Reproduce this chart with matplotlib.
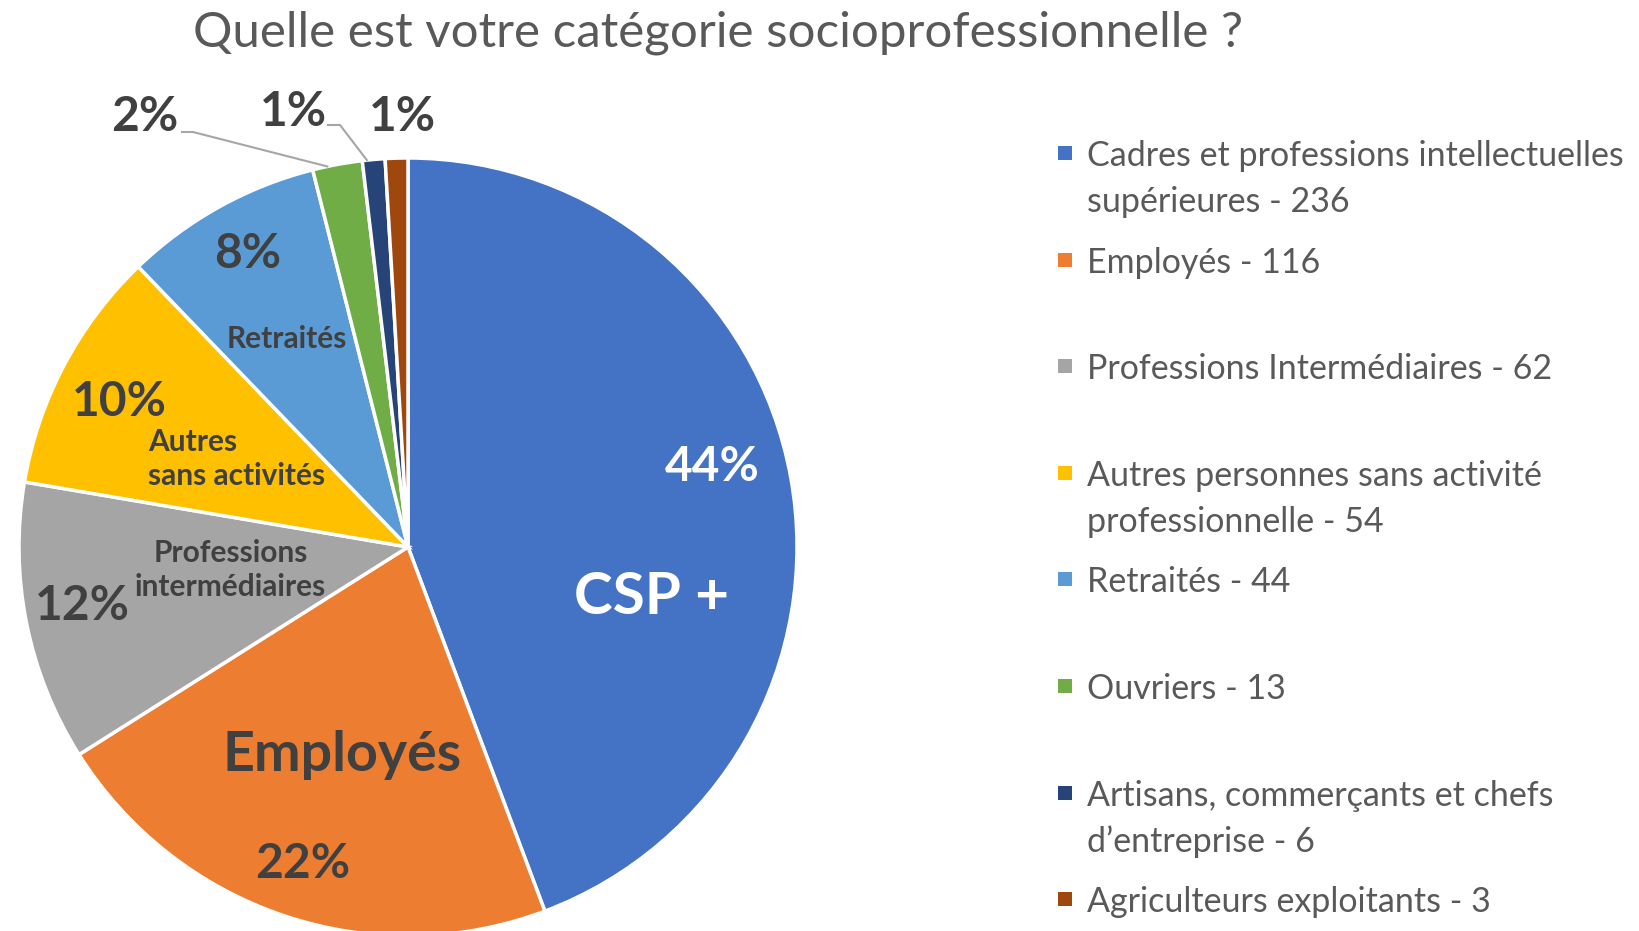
import matplotlib
matplotlib.use("Agg")
import matplotlib.pyplot as plt
import numpy as np

plt.rcParams['font.family'] = ['Lato', 'DejaVu Sans']

# data
categories = [
    "Cadres et professions intellectuelles\nsupérieures - 236",
    "Employés - 116",
    "Professions Intermédiaires - 62",
    "Autres personnes sans activité\nprofessionnelle - 54",
    "Retraités - 44",
    "Ouvriers - 13",
    "Artisans, commerçants et chefs\nd’entreprise - 6",
    "Agriculteurs exploitants - 3",
]
values = [236, 116, 62, 54, 44, 11, 5, 5]
pct_labels = ["44%", "22%", "12%", "10%", "8%", "2%", "1%", "1%"]
colors = ["#4472C4", "#ED7D31", "#A5A5A5", "#FFC000",
          "#5B9BD5", "#70AD47", "#264478", "#9E480E"]
title = "Quelle est votre catégorie socioprofessionnelle ?"

W, H = 1639, 931
fig = plt.figure(figsize=(W / 100, H / 100), dpi=100)
ax = fig.add_axes([0, 0, 1, 1])

cx, cy, R = 408, H - 547, 389
wedges, _ = ax.pie(values, colors=colors, startangle=90, counterclock=False,
                   center=(cx, cy), radius=R,
                   wedgeprops=dict(edgecolor='white', linewidth=2.5))
ax.set_xlim(0, W)
ax.set_ylim(0, H)
ax.set_aspect('equal')
ax.axis('off')


def polar(ang, frac):
    a = np.deg2rad(ang)
    return cx + frac * R * np.cos(a), cy + frac * R * np.sin(a)


dark = "#404040"
# inside labels: (text, angle, radius fraction, size, color)
inside = [
    (pct_labels[0], 14.7, 0.81, 34.5, 'white'),
    ("CSP +", -11.8, 0.64, 42, 'white'),
    ("Employés", -107.6, 0.56, 40, dark),
    (pct_labels[1], -108.4, 0.86, 34.5, dark),
    (pct_labels[2], -169.7, 0.85, 34.5, dark),
    (pct_labels[3], 153.4, 0.83, 34.5, dark),
    (pct_labels[4], 118.7, 0.86, 34.5, dark),
    ("Retraités", 120.3, 0.62, 21.5, dark),
    ("Professions\nintermédiaires", -172.6, 0.46, 21.5, dark),
]
for txt, ang, fr, size, col in inside:
    x, y = polar(ang, fr)
    ax.text(x, y, txt, ha='center', va='center', fontsize=size,
            fontweight='bold', color=col, linespacing=1.25)

x, y = polar(153, 0.5)
ax.text(148, y, "Autres\nsans activités", ha='left', va='center', fontsize=21.5,
        fontweight='bold', color=dark, linespacing=1.25)

# outside labels with leader lines
mids = [(w.theta1 + w.theta2) / 2 for w in wedges]

ax.text(145, H - 117, pct_labels[5], ha='center', va='center', fontsize=34.5,
        fontweight='bold', color=dark)
ex, ey = polar(mids[5] + 1.5, 1.0)
ax.plot([182, 193, ex], [H - 132, H - 132, ey], color='#A6A6A6', lw=1.5)

ax.text(293, H - 112, pct_labels[6], ha='center', va='center', fontsize=34.5,
        fontweight='bold', color=dark)
ex, ey = polar(mids[6] + 1.0, 1.0)
ax.plot([328, 340, ex], [H - 125, H - 125, ey], color='#A6A6A6', lw=1.5)

ax.text(402, H - 117, pct_labels[7], ha='center', va='center', fontsize=34.5,
        fontweight='bold', color=dark)

# title
ax.text(718, H - 33, title, ha='center', va='center', fontsize=35.5,
        color='#595959')

# legend
for i, (lab, col) in enumerate(zip(categories, colors)):
    y0 = 153 + i * 106.6
    ax.scatter([1065], [H - y0], marker='s', s=110, color=col, linewidths=0)
    for j, line in enumerate(lab.split("\n")):
        ax.text(1087, H - (y0 + j * 46), line, ha='left', va='center_baseline',
                fontsize=24.5, color='#595959')

fig.savefig("out.png", dpi=100)
